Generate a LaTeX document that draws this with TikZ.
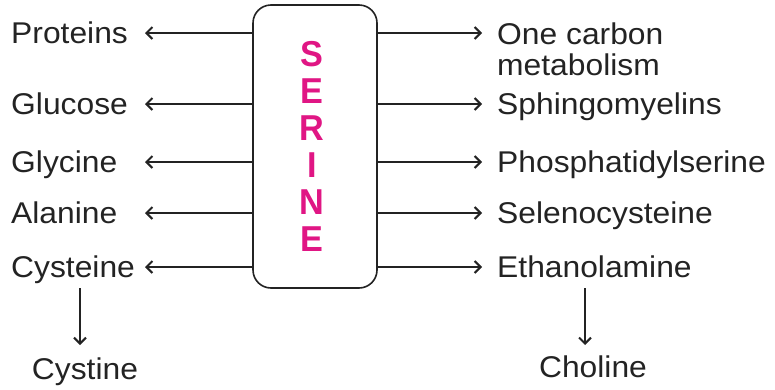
\documentclass[tikz,border=0pt]{standalone}
\usepackage{fontspec}
\setmainfont{Liberation Sans}[FakeStretch=1.06]
\newfontfamily\boldsans{Liberation Sans}[FakeStretch=0.95]
\usetikzlibrary{arrows.meta}
\definecolor{ink}{RGB}{35,35,35}
\definecolor{serinecol}{RGB}{224,22,132}
\begin{document}
\begin{tikzpicture}[x=1pt,y=-1pt,
  lbl/.style={inner sep=0pt,text=ink,font=\fontsize{30}{31}\selectfont},
  arr/.style={draw=ink,line width=2pt,-{Straight Barb[length=6pt,width=12pt,line width=2pt]}},
  box/.style={draw=ink,line width=1.6pt,rounded corners=18pt,fill=white}]
\useasboundingbox (0,0) rectangle (775,389);
% central box
\node[box,minimum width=124pt,minimum height=283pt,inner sep=0pt] (serine) at (315,146.5) {};
\node[text=serinecol,align=center,inner sep=0pt,font=\boldsans\fontsize{36}{37}\bfseries\selectfont] (word) at (312,146) {S\\E\\R\\I\\N\\E};
% left labels
\node[lbl,anchor=base west] (prot) at (11,43.5) {Proteins};
\node[lbl,anchor=base west] (gluc) at (11,114.5) {Glucose};
\node[lbl,anchor=base west] (glyc) at (11,172.5) {Glycine};
\node[lbl,anchor=base west] (alan) at (11,223.5) {Alanine};
\node[lbl,anchor=base west] (cyst) at (11,277.5) {Cysteine};
\node[lbl,anchor=base] (cysn) at (85,379) {Cystine};
% right labels
\node[lbl,anchor=base west] (onec) at (497,44) {One carbon};
\node[lbl,anchor=base west] (onec2) at (497,75) {metabolism};
\node[lbl,anchor=base west] (sphi) at (497,114.5) {Sphingomyelins};
\node[lbl,anchor=base west] (phos) at (497,172.5) {Phosphatidylserine};
\node[lbl,anchor=base west] (sele) at (497,223.5) {Selenocysteine};
\node[lbl,anchor=base west] (etha) at (497,277.5) {Ethanolamine};
\node[lbl,anchor=base] (chol) at (593,377) {Choline};
% arrow tips
\coordinate (l1) at (145,33);
\coordinate (l2) at (145,104);
\coordinate (l3) at (145,162);
\coordinate (l4) at (145,213);
\coordinate (l5) at (145,267);
\coordinate (r1) at (482,33);
\coordinate (r2) at (482,104);
\coordinate (r3) at (482,162);
\coordinate (r4) at (482,213);
\coordinate (r5) at (482,267);
\coordinate (d1) at (80,288);
\coordinate (d1e) at (80,345);
\coordinate (d2) at (585,288);
\coordinate (d2e) at (585,345);
% connectors
\foreach \i in {1,...,5}{
  \draw[arr] (serine.west |- l\i) -- (l\i);
  \draw[arr] (serine.east |- r\i) -- (r\i);
}
\draw[arr] (d1) -- (d1e);
\draw[arr] (d2) -- (d2e);
\end{tikzpicture}
\end{document}
